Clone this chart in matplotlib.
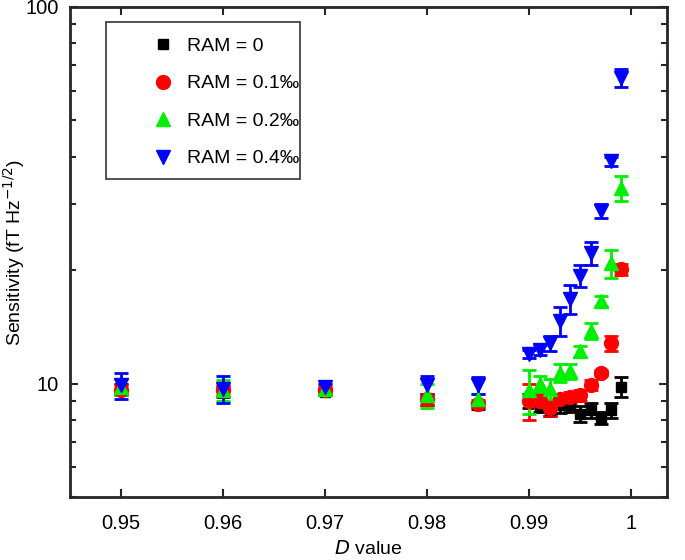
import numpy as np
import matplotlib.pyplot as plt
from matplotlib.lines import Line2D
from matplotlib.patches import Rectangle

plt.rcParams['font.family'] = ['Liberation Sans', 'DejaVu Sans']

# D values
d_vals = [0.95, 0.96, 0.97, 0.98, 0.985,
          0.990, 0.991, 0.992, 0.993, 0.994, 0.995, 0.996, 0.997, 0.998, 0.999]

# sensitivity (fT Hz^-1/2) and error bars per RAM level
ram0 = [9.7, 9.5, 9.5, 9.1, 8.75, 9.0, 8.8, 8.5, 8.75, 8.8, 8.3, 8.5, 8.1, 8.5, 9.8]
ram0_err = [0.3, 0.3, 0.2, 0.3, 0.2, 0.4, 0.4, 0.3, 0.4, 0.4, 0.4, 0.4, 0.3, 0.4, 0.6]

ram1 = [9.6, 9.6, 9.6, 9.1, 8.85, 9.0, 9.0, 8.6, 9.1, 9.2, 9.3, 9.9, 10.7, 12.8, 20.1]
ram1_err = [0.3, 0.3, 0.2, 0.3, 0.2, 1.0, 0.4, 0.4, 0.3, 0.3, 0.3, 0.3, 0.2, 0.6, 0.7]

ram2 = [9.8, 9.6, 9.7, 9.3, 9.1, 9.6, 10.0, 9.7, 10.7, 10.8, 12.2, 13.8, 16.6, 20.9, 33.0]
ram2_err = [0.5, 0.6, 0.3, 0.7, 0.3, 1.3, 0.5, 0.6, 0.6, 0.5, 0.4, 0.7, 0.5, 1.8, 2.5]

ram4 = [9.9, 9.7, 9.8, 9.9, 9.9, 12.0, 12.3, 12.8, 14.7, 16.8, 19.3, 22.2, 28.7, 38.9, 64.9]
ram4_err = [0.8, 0.8, 0.2, 0.6, 0.5, 0.3, 0.4, 0.6, 1.3, 1.5, 1.3, 1.5, 1.2, 1.0, 3.5]

series = [
    (ram0, ram0_err, 'k', 's', 7.5, 'RAM = 0'),
    (ram1, ram1_err, 'r', 'o', 10, 'RAM = 0.1\u2030'),
    (ram2, ram2_err, '#00ee00', '^', 10.5, 'RAM = 0.2\u2030'),
    (ram4, ram4_err, 'b', 'v', 10.5, 'RAM = 0.4\u2030'),
]

fig = plt.figure(figsize=(6.85, 5.6), dpi=100)
ax = fig.add_axes([0.102, 0.1125, 0.872, 0.875])

handles = []
for vals, errs, col, mk, ms, lab in series:
    ax.errorbar(d_vals, vals, yerr=errs, fmt=mk, color=col, ms=ms,
                ecolor=col, elinewidth=2, capsize=5, capthick=2, mec=col)
    handles.append(Line2D([], [], ls='', marker=mk, color=col, ms=ms, label=lab))

ax.set_yscale('log')
ax.set_ylim(5, 100)
ax.set_xlim(0.945, 1.0035)
ax.set_xticks([0.95, 0.96, 0.97, 0.98, 0.99, 1.0])
ax.set_xticklabels(['0.95', '0.96', '0.97', '0.98', '0.99', '1'])
ax.set_yticks([10, 100])
ax.set_yticklabels(['10', '100'])
ax.tick_params(which='both', direction='in', top=True, right=True, labelsize=14.5,
               color='#262626', width=1.5)
ax.tick_params(which='major', length=6)
ax.tick_params(axis='x', which='major', pad=12)
ax.tick_params(axis='y', which='major', pad=8)
ax.tick_params(which='minor', length=4)
ax.tick_params(axis='x', which='minor', bottom=False, top=False)
for s in ax.spines.values():
    s.set_linewidth(2)
    s.set_color('#262626')

ax.set_xlabel('$\\mathit{D}$ value', fontsize=14, labelpad=5)
ax.set_ylabel('Sensitivity (fT Hz$^{-1/2}$)', fontsize=14)
ax.yaxis.set_label_coords(-0.071, 0.5)

# legend box drawn separately (MATLAB-like spacing)
ax.add_patch(Rectangle((0.0603, 0.650), 0.3247, 0.3195, transform=ax.transAxes,
                       fill=True, facecolor='white', edgecolor='#333333',
                       lw=1.2, zorder=5))
leg = ax.legend(handles=handles, loc='upper left', bbox_to_anchor=(0.123, 0.938),
                fontsize=14, frameon=False, labelspacing=1.02, borderpad=0,
                handletextpad=0.24, borderaxespad=0, handlelength=2.0)
leg.set_zorder(6)

fig.savefig('out.png', dpi=100)
